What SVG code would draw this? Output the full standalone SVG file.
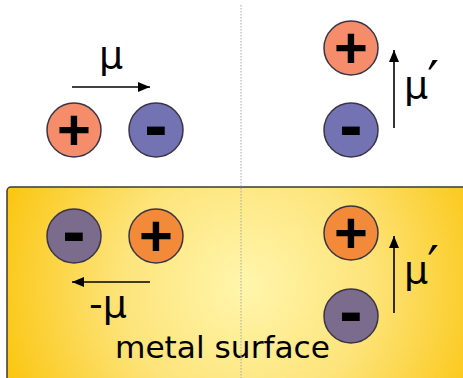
<svg xmlns="http://www.w3.org/2000/svg" width="463" height="378" viewBox="0 0 463 378">
<defs>
<radialGradient id="metal" gradientUnits="userSpaceOnUse" cx="245" cy="285" r="250">
<stop offset="0" stop-color="#fff6ac"/>
<stop offset="0.5" stop-color="#fde47a"/>
<stop offset="1" stop-color="#fbc716"/>
</radialGradient>
<marker id="ah" markerWidth="12" markerHeight="10" refX="12" refY="5" orient="auto" markerUnits="userSpaceOnUse">
<path d="M0,0 L12,5 L0,10 z" fill="#000"/>
</marker>
<style>
.ion{stroke:#3a3446;stroke-width:1.5}
.pt{fill:#f58d6b}.mt{fill:#7373b3}.pb{fill:#f28a3a}.mb{fill:#7b6b8c}
.sign{font-family:"Liberation Sans",Arial,sans-serif;font-weight:bold;font-size:58px;fill:#000;text-anchor:middle}
.minus{font-size:70px}
.mu{font-family:"DejaVu Sans","Liberation Sans",sans-serif;font-size:38px;fill:#000}
.prime{font-size:52px}
.arr{stroke:#000;stroke-width:1.6;fill:none;marker-end:url(#ah)}
.lbl{font-family:"DejaVu Sans","Liberation Sans",sans-serif;font-size:30px;fill:#000}
</style>
</defs>
<g id="metal-surface">
<rect x="7" y="187" width="470" height="200" rx="4" fill="url(#metal)" stroke="#3a3a3a" stroke-width="1.5"/>
<text class="lbl" x="115" y="358" textLength="215" lengthAdjust="spacingAndGlyphs">metal surface</text>
</g>
<line x1="241" y1="5" x2="241" y2="378" stroke="#a8a8a8" stroke-width="1" stroke-dasharray="1.5,1.5"/>
<g id="connectors">
<line class="arr" x1="72" y1="87" x2="150" y2="87"/>
<line class="arr" x1="394" y1="128" x2="394" y2="50"/>
<line class="arr" x1="150" y1="282" x2="72" y2="282"/>
<line class="arr" x1="394" y1="313" x2="394" y2="236"/>
</g>
<g id="top-left-plus"><circle class="ion pt" cx="74" cy="130" r="27"/><text class="sign" x="74" y="150">+</text></g>
<g id="top-left-minus"><circle class="ion mt" cx="156" cy="130" r="27"/><text class="sign minus" x="156" y="149">-</text></g>
<g id="top-right-plus"><circle class="ion pt" cx="351" cy="48" r="27"/><text class="sign" x="351" y="68">+</text></g>
<g id="top-right-minus"><circle class="ion mt" cx="351" cy="130" r="27"/><text class="sign minus" x="351" y="149">-</text></g>
<g id="bottom-left-minus"><circle class="ion mb" cx="74" cy="236" r="27"/><text class="sign minus" x="74" y="255">-</text></g>
<g id="bottom-left-plus"><circle class="ion pb" cx="156" cy="236" r="27"/><text class="sign" x="156" y="256">+</text></g>
<g id="bottom-right-plus"><circle class="ion pb" cx="351" cy="233" r="27"/><text class="sign" x="351" y="253">+</text></g>
<g id="bottom-right-minus"><circle class="ion mb" cx="351" cy="316" r="27"/><text class="sign minus" x="351" y="335">-</text></g>
<g id="labels">
<text class="mu" x="99" y="68">μ</text>
<text class="mu" x="404" y="98">μ<tspan class="prime" dx="-1">′</tspan></text>
<text class="mu" x="89" y="317">-μ</text>
<text class="mu" x="404" y="283">μ<tspan class="prime" dx="-1">′</tspan></text>
</g>
</svg>
